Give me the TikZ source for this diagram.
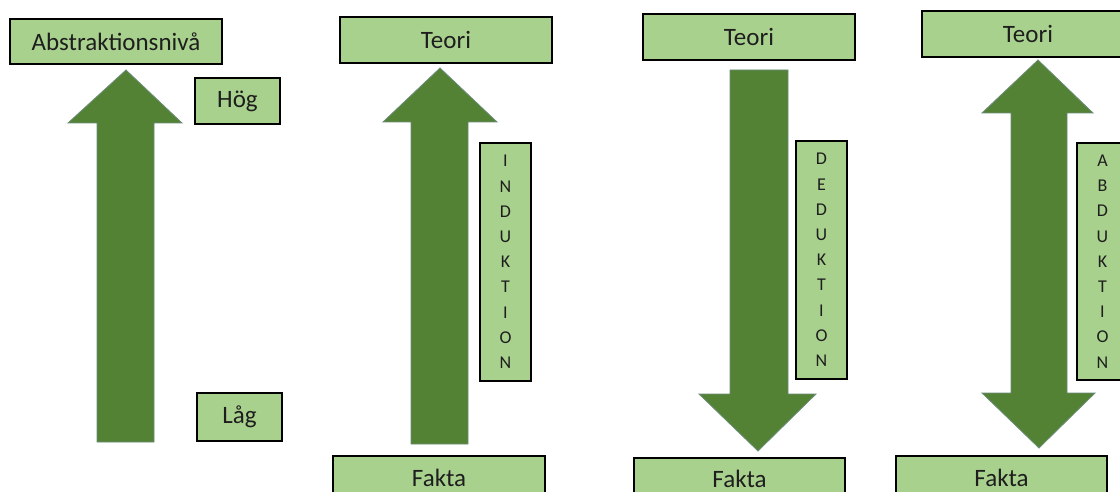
\documentclass[tikz,border=0pt]{standalone}
\usepackage{fontspec}
\setmainfont{Carlito}
\definecolor{boxgreen}{HTML}{A9D18E}
\definecolor{arrowgreen}{HTML}{548235}
\definecolor{arrowedge}{HTML}{6A8C78}
\definecolor{txt}{HTML}{1E1E1E}
\tikzset{
  gbox/.style={draw=black, line width=1.3pt, fill=boxgreen, inner sep=0pt,
    text=txt, font=\fontsize{25}{29}\selectfont},
  gtext/.style={inner sep=0pt, text=txt, font=\fontsize{25}{29}\selectfont, anchor=base},
  vbox/.style={gbox, align=center, font=\fontsize{18}{25.2}\selectfont},
  blockarrow/.style={fill=arrowgreen, draw=arrowedge, line width=0.8pt, line join=miter}
}
\begin{document}
\begin{tikzpicture}[x=1pt,y=-1pt]
\useasboundingbox (0,0) rectangle (1120,492);
\clip (0,0) rectangle (1120,492);
\fill[white] (0,0) rectangle (1120,492);

% arrows
\draw[blockarrow] (126,70) -- (182,123) -- (154,123) -- (154,442) -- (97,442) -- (97,123) -- (68,123) -- cycle;
\draw[blockarrow] (440,68) -- (497,122) -- (468,122) -- (468,444) -- (411,444) -- (411,122) -- (383,122) -- cycle;
\draw[blockarrow] (730,70) -- (788,70) -- (788,394) -- (816,394) -- (758,451) -- (699,394) -- (730,394) -- cycle;
\draw[blockarrow] (1038,60) -- (1093,113) -- (1067,113) -- (1067,393) -- (1095,393) -- (1039,448) -- (982,393) -- (1011,393) -- (1011,113) -- (982,113) -- cycle;

% boxes
\node[gbox, minimum width=212pt, minimum height=45pt] (abs) at (116,41.5) {Abstraktionsnivå};
\node[gbox, minimum width=85pt, minimum height=46pt] (hog) at (237.5,101) {Hög};
\node[gbox, minimum width=85pt, minimum height=48pt] (lag) at (239.5,417) {Låg};

\node[gbox, minimum width=212pt, minimum height=46pt] (teori1) at (446,40) {Teori};
\node[gbox, minimum width=212pt, minimum height=50pt] (fakta1) at (439,481) {};
\node[gtext] (fakta1t) at (439,486.5) {Fakta};
\node[vbox, minimum width=51pt, minimum height=238pt] (ind) at (505.5,262) {I\\N\\D\\U\\K\\T\\I\\O\\N};

\node[gbox, minimum width=212pt, minimum height=46pt] (teori2) at (749,37) {Teori};
\node[gbox, minimum width=211pt, minimum height=48pt] (fakta2) at (739.5,482) {};
\node[gtext] (fakta2t) at (739.5,487) {Fakta};
\node[vbox, minimum width=51pt, minimum height=238pt] (ded) at (821.5,260) {D\\E\\D\\U\\K\\T\\I\\O\\N};

\node[gbox, minimum width=212pt, minimum height=46pt] (teori3) at (1028,34) {Teori};
\node[gbox, minimum width=211pt, minimum height=50pt] (fakta3) at (1001.5,481) {};
\node[gtext] (fakta3t) at (1001.5,486.5) {Fakta};
\node[vbox, minimum width=51pt, minimum height=237pt] (abd) at (1102.5,261.5) {A\\B\\D\\U\\K\\T\\I\\O\\N};
\end{tikzpicture}
\end{document}
